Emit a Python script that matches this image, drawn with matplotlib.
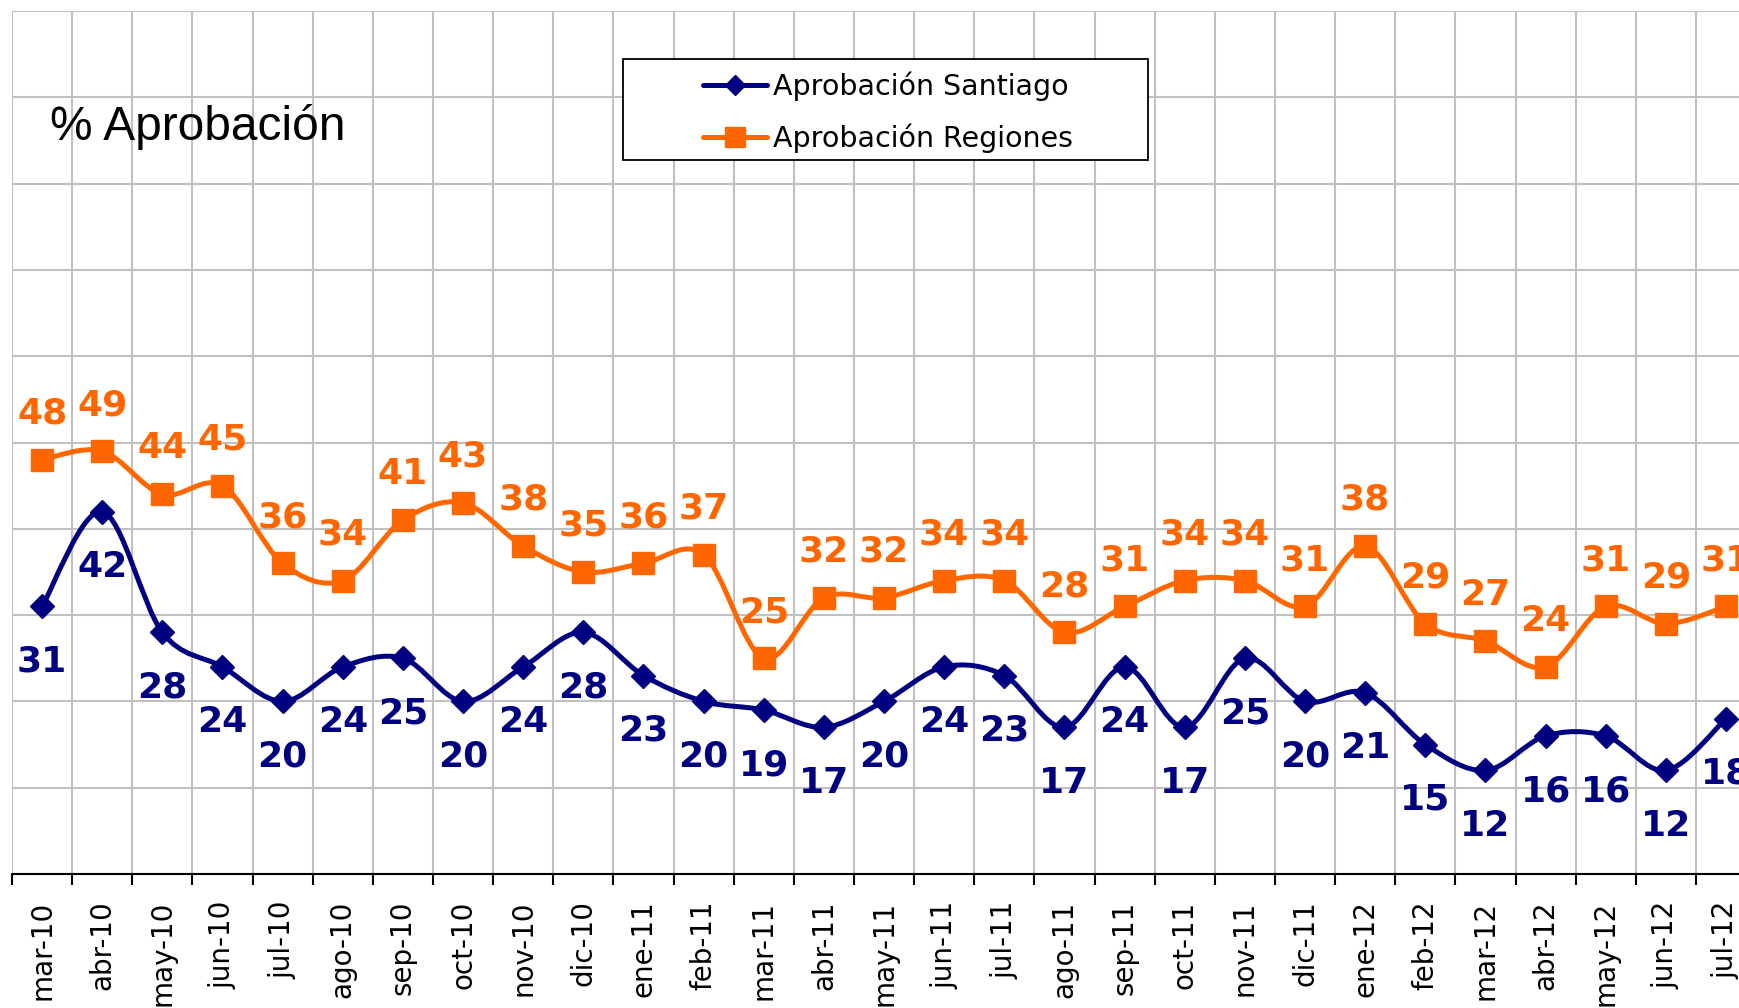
"""Aprobación Santiago vs Regiones, mar-10 a jul-12."""

import matplotlib
matplotlib.use("Agg")
import matplotlib.pyplot as plt
from matplotlib.lines import Line2D
from matplotlib.patches import PathPatch, Rectangle
from matplotlib.path import Path

months = [
    'mar-10', 'abr-10', 'may-10', 'jun-10', 'jul-10', 'ago-10', 'sep-10',
    'oct-10', 'nov-10', 'dic-10', 'ene-11', 'feb-11', 'mar-11', 'abr-11',
    'may-11', 'jun-11', 'jul-11', 'ago-11', 'sep-11', 'oct-11', 'nov-11',
    'dic-11', 'ene-12', 'feb-12', 'mar-12', 'abr-12', 'may-12', 'jun-12',
    'jul-12',
]
santiago = [31, 42, 28, 24, 20, 24, 25, 20, 24, 28, 23, 20, 19, 17, 20,
            24, 23, 17, 24, 17, 25, 20, 21, 15, 12, 16, 16, 12, 18]
regiones = [48, 49, 44, 45, 36, 34, 41, 43, 38, 35, 36, 37, 25, 32, 32,
            34, 34, 28, 31, 34, 34, 31, 38, 29, 27, 24, 31, 29, 31]

NAVY = '#000080'
ORANGE = '#FF6600'
GRID = '#C0C0C0'
W, H = 1739, 1008


def smooth_path(xs, ys):
    """Bezier path through the points (Excel-style smoothed line)."""
    pts = list(zip(xs, ys))
    verts = [pts[0]]
    codes = [Path.MOVETO]
    n = len(pts)
    for i in range(n - 1):
        p0 = pts[i - 1] if i > 0 else pts[i]
        p1 = pts[i]
        p2 = pts[i + 1]
        p3 = pts[i + 2] if i + 2 < n else pts[i + 1]
        c1 = (p1[0] + (p2[0] - p0[0]) / 6, p1[1] + (p2[1] - p0[1]) / 6)
        c2 = (p2[0] - (p3[0] - p1[0]) / 6, p2[1] - (p3[1] - p1[1]) / 6)
        verts += [c1, c2, p2]
        codes += [Path.CURVE4] * 3
    return Path(verts, codes)


fig = plt.figure(figsize=(W / 100, H / 100), dpi=100)
step = 60.14
# the plot runs a little past the right edge of the picture, as in the original
ax = fig.add_axes([12 / W, (H - 874) / H, len(months) * step / W, 863 / H])

x = list(range(len(months)))

for ys, color, marker, ms in [(santiago, NAVY, 'D', 12.5), (regiones, ORANGE, 's', 16.5)]:
    ax.add_patch(PathPatch(smooth_path(x, ys), facecolor='none', edgecolor=color,
                           linewidth=3.6, capstyle='round', joinstyle='round', zorder=3))
    ax.plot(x, ys, linestyle='none', marker=marker, markersize=ms,
            color=color, markeredgewidth=1, zorder=4)

for i, v in enumerate(regiones):
    ax.annotate(str(v), (i, v), xytext=(0, 26), textcoords='offset points',
                ha='center', va='baseline', fontsize=26, fontweight='bold',
                color=ORANGE, zorder=5)
for i, v in enumerate(santiago):
    ax.annotate(str(v), (i, v), xytext=(0, -47), textcoords='offset points',
                ha='center', va='baseline', fontsize=26, fontweight='bold',
                color=NAVY, zorder=5, annotation_clip=False)

ax.set_xlim(-0.5, len(months) - 0.5)
ax.set_ylim(0, 100)

ax.set_xticks([i - 0.5 for i in range(len(months) + 1)])
ax.set_xticklabels([])
ax.set_xticks(x, minor=True)
ax.set_xticklabels(months, minor=True, rotation=90, fontsize=20,
                   ha='center', va='top')
ax.tick_params(axis='x', which='major', length=8, width=1.5, color='black')
ax.tick_params(axis='x', which='minor', length=0, pad=19)
ax.set_yticks(range(0, 101, 10))
ax.tick_params(axis='y', left=False, labelleft=False)

ax.grid(True, which='major', color=GRID, linewidth=1.5)
ax.set_axisbelow(True)
for side in ['left', 'top', 'right']:
    ax.spines[side].set_visible(False)
ax.spines['bottom'].set_linewidth(1.5)

fig.text(50 / W, 1 - 140 / H, '% Aprobación', fontsize=34.5,
         family='Liberation Sans', va='baseline', ha='left')

# legend: frame drawn separately so it can be wider than its content
fig.patches.append(Rectangle((623 / W, 1 - 160 / H), 525 / W, 101 / H,
                             transform=fig.transFigure, facecolor='white',
                             edgecolor='black', linewidth=1.3, zorder=6))
handles = [
    Line2D([], [], color=NAVY, linewidth=3.6, marker='D', markersize=10.5,
           solid_capstyle='round'),
    Line2D([], [], color=ORANGE, linewidth=3.6, marker='s', markersize=14,
           solid_capstyle='round'),
]
leg = fig.legend(handles, ['Aprobación Santiago', 'Aprobación Regiones'],
                 loc='center left', bbox_to_anchor=(703 / W, 1 - 112 / H),
                 frameon=False, fontsize=20.5, handlelength=2.25,
                 handletextpad=0.2, labelspacing=0.78, borderpad=0,
                 borderaxespad=0)
leg.set_zorder(7)

fig.savefig('out.png', dpi=100)
